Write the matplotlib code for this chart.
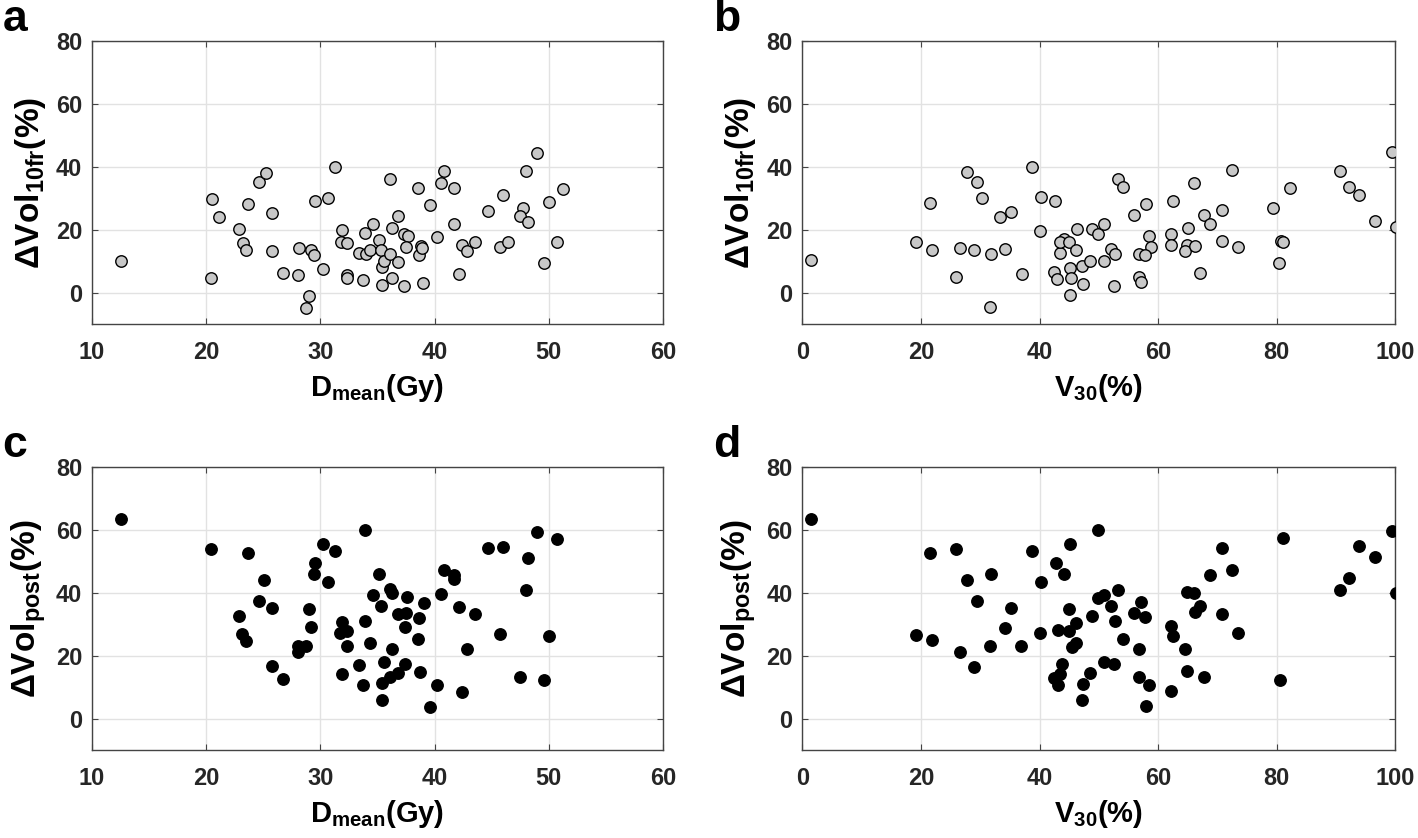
import matplotlib
matplotlib.use("Agg")
import matplotlib.pyplot as plt

plt.rcParams["font.family"] = ["Liberation Sans", "DejaVu Sans"]
plt.rcParams["font.weight"] = "bold"
plt.rcParams["mathtext.fontset"] = "custom"
plt.rcParams["mathtext.rm"] = "Liberation Sans:bold"
plt.rcParams["mathtext.default"] = "rm"

# Panel a: Dmean vs dVol 10fr
dmean_a = [12.5, 20.5, 20.4, 21.1, 22.9, 23.2, 23.5, 23.7, 24.6, 25.2, 25.8, 25.8,
           26.7, 28.0, 28.1, 29.0, 28.7, 29.2, 29.4, 29.5, 30.2, 30.7, 31.3, 31.9,
           31.8, 32.3, 32.3, 32.3, 33.4, 33.7, 33.9, 34.0, 34.3, 34.6, 35.1, 35.3,
           35.4, 35.6, 35.4, 36.1, 36.3, 36.8, 37.3, 37.7, 37.5, 36.1, 36.8, 36.3,
           37.3, 38.5, 38.6, 38.8, 38.9, 39.0, 39.6, 40.2, 40.6, 40.8, 41.7, 41.7,
           42.1, 42.4, 42.8, 43.5, 44.7, 45.7, 46.0, 46.4, 47.7, 47.5, 48.2, 48.0,
           49.0, 49.6, 50.0, 50.7, 51.2]
dvol10_a = [10.2, 29.8, 4.9, 24.0, 20.2, 15.9, 13.5, 28.4, 35.2, 38.2, 25.5, 13.4,
            6.3, 5.7, 14.2, -1.0, -4.7, 13.7, 12.2, 29.2, 7.6, 30.3, 39.9, 20.0,
            16.3, 15.9, 5.7, 4.6, 12.6, 4.2, 18.9, 12.4, 13.7, 21.9, 16.8, 13.7,
            8.4, 10.1, 2.6, 36.1, 20.5, 24.3, 18.7, 18.2, 14.7, 12.3, 9.9, 4.9,
            2.1, 33.4, 11.9, 15.0, 14.4, 3.2, 28.0, 17.9, 34.8, 38.7, 33.4, 21.9,
            6.1, 15.1, 13.2, 16.2, 26.1, 14.5, 31.1, 16.3, 27.0, 24.3, 22.6, 38.7,
            44.4, 9.4, 29.0, 16.1, 33.0]

# Panel b: V30 vs dVol 10fr
v30_b = [1.5, 19.2, 21.6, 21.9, 26.0, 26.6, 27.7, 29.5, 28.9, 30.3, 31.7, 31.8,
         33.4, 34.1, 35.2, 37.0, 38.8, 40.3, 40.1, 42.6, 42.4, 43.0, 43.5, 44.1,
         43.5, 45.0, 45.2, 45.3, 45.1, 46.2, 46.3, 47.1, 47.4, 48.8, 49.8, 50.8,
         48.5, 50.8, 52.1, 52.7, 52.6, 53.2, 54.0, 55.9, 58.0, 58.4, 58.8, 56.8,
         57.8, 56.7, 57.1, 62.1, 62.1, 62.5, 65.0, 64.8, 64.6, 66.2, 66.0, 67.1,
         67.7, 68.7, 70.7, 70.7, 72.4, 73.5, 79.4, 80.7, 81.1, 80.4, 82.2, 90.6,
         92.2, 93.8, 96.6, 99.4, 100.1]
dvol10_b = [10.4, 16.1, 28.7, 13.8, 5.1, 14.3, 38.3, 35.2, 13.7, 30.2, -4.4, 12.5,
            24.2, 14.0, 25.7, 5.9, 40.1, 30.5, 19.6, 29.3, 6.7, 4.4, 12.8, 17.0,
            16.3, 16.2, 7.8, 4.9, -0.7, 13.8, 20.2, 8.6, 2.8, 20.2, 18.7, 22.0,
            10.2, 10.3, 14.0, 12.5, 2.3, 36.3, 33.5, 24.6, 28.3, 18.1, 14.5, 12.5,
            11.9, 5.1, 3.4, 18.6, 15.2, 29.1, 20.7, 15.2, 13.4, 14.9, 34.9, 6.3,
            24.6, 22.0, 26.2, 16.4, 38.9, 14.7, 27.1, 16.4, 16.2, 9.6, 33.2, 38.8,
            33.7, 31.2, 22.9, 44.6, 21.1]

# Panel c: Dmean vs dVol post
dmean_c = [12.5, 20.4, 22.9, 23.1, 23.5, 23.7, 24.6, 25.1, 25.8, 25.8, 26.7, 28.0,
           28.0, 28.7, 29.0, 29.2, 29.4, 29.5, 30.2, 30.7, 31.3, 31.7, 31.9, 31.9,
           32.3, 32.3, 33.4, 33.7, 33.9, 33.9, 34.3, 34.6, 35.1, 35.3, 35.4, 35.4,
           35.6, 36.1, 36.1, 36.3, 36.3, 36.8, 36.8, 37.4, 37.4, 37.5, 37.6, 38.5,
           38.6, 38.7, 39.1, 39.6, 40.2, 40.6, 40.8, 41.7, 41.7, 42.1, 42.4, 42.8,
           43.5, 44.7, 45.7, 46.0, 47.5, 48.0, 48.2, 49.0, 49.6, 50.0, 50.7]
dvolpost_c = [63.3, 53.8, 32.5, 26.8, 24.8, 52.6, 37.4, 43.9, 35.2, 16.6, 12.7, 23.2,
              21.1, 23.2, 34.7, 29.0, 46.0, 49.4, 55.6, 43.3, 53.1, 27.1, 30.6, 14.2,
              27.8, 23.0, 17.1, 10.6, 59.9, 30.9, 24.1, 39.3, 45.9, 35.8, 11.2, 5.9,
              17.9, 13.1, 41.1, 40.0, 22.0, 33.2, 14.6, 29.1, 17.4, 33.7, 38.5, 25.3,
              32.0, 14.9, 36.8, 3.7, 10.6, 39.7, 47.1, 45.5, 44.4, 35.6, 8.6, 22.1,
              33.2, 54.1, 27.0, 54.6, 13.2, 40.8, 51.1, 59.4, 12.2, 26.2, 57.2]

# Panel d: V30 vs dVol post
v30_d = [1.5, 19.2, 21.6, 21.9, 26.0, 26.6, 27.7, 28.9, 29.5, 31.8, 31.7, 34.1,
         35.2, 36.9, 38.8, 40.3, 40.0, 42.7, 45.1, 44.2, 45.0, 43.2, 45.0, 46.2,
         46.1, 45.4, 43.8, 43.5, 42.5, 43.1, 47.4, 47.1, 49.9, 48.8, 48.5, 49.8,
         50.9, 53.2, 52.1, 52.7, 54.0, 50.8, 52.6, 55.9, 57.1, 57.8, 56.7, 56.8,
         58.4, 58.0, 62.1, 62.5, 62.1, 64.6, 64.8, 64.9, 66.1, 67.0, 66.2, 67.7,
         68.7, 70.7, 70.7, 72.4, 73.5, 80.5, 81.1, 90.7, 92.2, 93.8, 96.6, 99.4,
         100.1]
dvolpost_d = [63.3, 26.7, 52.6, 24.9, 53.8, 21.2, 43.9, 16.5, 37.4, 45.9, 23.0, 28.9,
              35.2, 23.1, 53.2, 43.3, 27.1, 49.4, 55.6, 45.8, 34.7, 28.0, 27.7, 30.5,
              24.1, 22.9, 17.2, 14.1, 12.8, 10.6, 11.1, 5.9, 60.0, 32.7, 14.6, 38.4,
              39.3, 40.8, 35.9, 31.1, 25.4, 18.1, 17.5, 33.4, 37.1, 32.2, 22.2, 13.3,
              10.7, 3.9, 29.3, 26.3, 8.7, 22.2, 15.1, 40.2, 39.9, 35.8, 33.8, 13.3,
              45.6, 33.3, 54.3, 47.2, 27.2, 12.2, 57.4, 40.8, 44.7, 54.8, 51.2, 59.6,
              39.8]

fig = plt.figure(figsize=(14.18, 8.38), dpi=100)

panels = [
    ("a", [0.0649, 0.6128, 0.4027, 0.3383], dmean_a, dvol10_a, "#c8c8c8", (10, 60), 10,
     "D$_{mean}$(Gy)", "ΔVol$_{10fr}$(%)"),
    ("b", [0.5658, 0.6128, 0.4182, 0.3383], v30_b, dvol10_b, "#c8c8c8", (0, 100), 20,
     "V$_{30}$(%)", "ΔVol$_{10fr}$(%)"),
    ("c", [0.0649, 0.1048, 0.4027, 0.3383], dmean_c, dvolpost_c, "black", (10, 60), 10,
     "D$_{mean}$(Gy)", "ΔVol$_{post}$(%)"),
    ("d", [0.5658, 0.1048, 0.4182, 0.3383], v30_d, dvolpost_d, "black", (0, 100), 20,
     "V$_{30}$(%)", "ΔVol$_{post}$(%)"),
]

for letter, pos, x, y, fc, xlim, xstep, xlab, ylab in panels:
    ax = fig.add_axes(pos)
    ax.scatter(x, y, s=68, facecolor=fc, edgecolor="black", linewidth=1.0, zorder=3)
    ax.set_xlim(*xlim)
    ax.set_ylim(-10, 80)
    ax.set_xticks(range(xlim[0], xlim[1] + 1, xstep))
    ax.set_yticks([0, 20, 40, 60, 80])
    ax.grid(True, color="#e2e2e2", linewidth=1.0)
    ax.set_axisbelow(True)
    for sp in ax.spines.values():
        sp.set_color("#444444")
        sp.set_linewidth(1.0)
    ax.tick_params(direction="in", length=4, width=0.8, color="#444444",
                   top=True, right=True, labelsize=17, labelcolor="#262626")
    ax.tick_params(axis="x", pad=12)
    ax.tick_params(axis="y", pad=7)
    ax.set_xlabel(xlab, fontsize=21, fontweight="bold", labelpad=6)
    ax.set_ylabel(ylab, fontsize=24, fontweight="bold", labelpad=6)
    bb = ax.get_position()
    fig.text(bb.x0 - 0.063, bb.y1 + 0.012, letter, fontsize=32, fontweight="bold",
             va="baseline", ha="left")

fig.savefig("out.png", dpi=100)
